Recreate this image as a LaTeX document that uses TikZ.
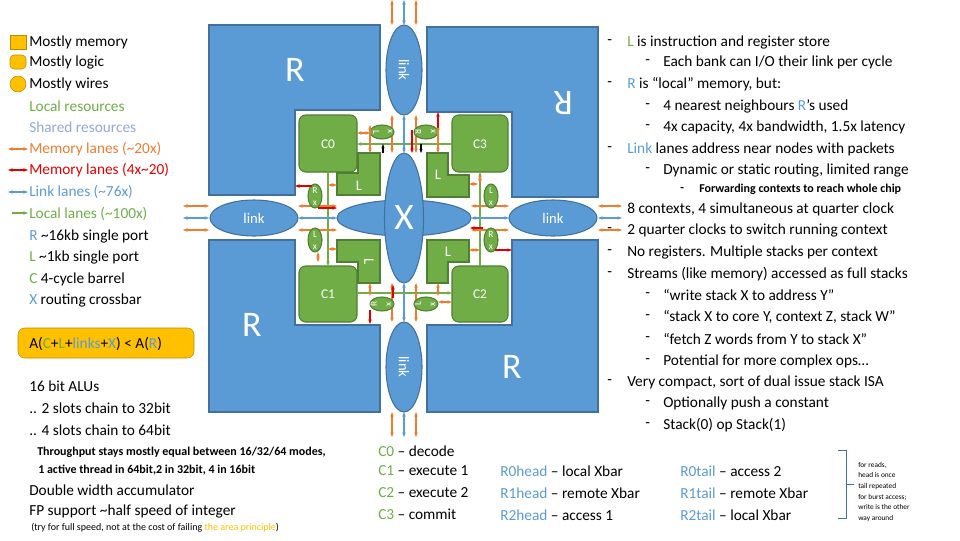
\documentclass[tikz,border=0pt]{standalone}
\usepackage{fontspec}
\setmainfont{Carlito}
\usetikzlibrary{arrows.meta}
\definecolor{mblue}{HTML}{5B9BD5}\definecolor{dblue}{HTML}{41719C}
\definecolor{mgreen}{HTML}{70AD47}\definecolor{dgreen}{HTML}{507E32}
\definecolor{morange}{HTML}{ED7D31}\definecolor{mgold}{HTML}{FFC000}
\definecolor{mred}{HTML}{E00000}\definecolor{ltblue}{HTML}{8FAADC}
\definecolor{gdraw}{HTML}{BC8C00}
\begin{document}
\begin{tikzpicture}[x=0.75pt,y=-0.75pt,
 blk/.style={fill=mblue,draw=dblue,line width=0.8pt},
 grn/.style={fill=mgreen,draw=dgreen,line width=0.8pt},
 oa/.style={{Stealth[length=3.5pt]}-{Stealth[length=3.5pt]},morange,line width=1.1pt},
 ba/.style={{Stealth[length=3.5pt]}-{Stealth[length=3.5pt]},mblue,line width=1.1pt},
 ga/.style={-{Stealth[length=3.5pt]},mgreen,line width=1.1pt},
 ra/.style={-{Stealth[length=3.5pt]},mred,line width=1.5pt},
 ka/.style={-{Stealth[length=3pt]},black,line width=0.8pt},
 wt/.style={white,font=\fontsize{11}{12}\selectfont},
 tx/.style={anchor=west,inner sep=0,font=\fontsize{11.5}{13}\selectfont},
 sm/.style={anchor=west,inner sep=0,font=\fontsize{9}{10}\selectfont\bfseries},
 tiny/.style={white,font=\fontsize{7}{7}\selectfont,inner sep=0}]
\useasboundingbox (0,0) rectangle (960,540);
% R blocks
\draw[blk] (209,25)--(380,25)--(380,110)--(295,110)--(295,195)--(209,195)--cycle;
\draw[blk] (427,27)--(598,27)--(598,197)--(512,197)--(512,112)--(427,112)--cycle;
\draw[blk] (209,240)--(295,240)--(295,325)--(380,325)--(380,412)--(209,412)--cycle;
\draw[blk] (427,325)--(512,325)--(512,240)--(598,240)--(598,412)--(427,412)--cycle;
\node[white,font=\fontsize{27}{28}\selectfont] (r0) at (295,70) {R};
\node[white,font=\fontsize{27}{28}\selectfont,rotate=180] (r3) at (563,103) {R};
\node[white,font=\fontsize{27}{28}\selectfont] (r1) at (252,325) {R};
\node[white,font=\fontsize{27}{28}\selectfont] (r2) at (512,367) {R};
% links and X
\draw[blk] (404,70) ellipse (18 and 45); \node[wt,rotate=-90] (lt) at (404,70) {link};
\draw[blk] (404,367) ellipse (18 and 45); \node[wt,rotate=-90] (lb) at (404,367) {link};
\draw[blk] (254,218) ellipse (44 and 18); \node[wt] (ll) at (254,218) {link};
\draw[blk] (553,218) ellipse (44 and 18); \node[wt] (lr) at (553,218) {link};
\draw[blk] (404,218) ellipse (67 and 18);
\draw[blk] (404,218) ellipse (19.5 and 65);
\node[white,font=\fontsize{28}{28}\selectfont] (X) at (404,218) {X};
% C boxes
\draw[grn,rounded corners=5pt] (299,115) rectangle (357,172); \node[wt,font=\fontsize{10}{10}\selectfont] (c0) at (328,144) {C0};
\draw[grn,rounded corners=5pt] (452,115) rectangle (508,172); \node[wt,font=\fontsize{10}{10}\selectfont] (c3) at (480,144) {C3};
\draw[grn,rounded corners=5pt] (299,266) rectangle (357,322); \node[wt,font=\fontsize{10}{10}\selectfont] (c1) at (328,294) {C1};
\draw[grn,rounded corners=5pt] (452,266) rectangle (508,322); \node[wt,font=\fontsize{10}{10}\selectfont] (c2) at (480,294) {C2};
% L shapes
\draw[grn] (358,153)--(380,153)--(380,195)--(337,195)--(337,173)--(358,173)--cycle; \node[wt] at (359,186) {L};
\draw[grn] (427,153)--(448,153)--(448,175)--(469,175)--(469,197)--(427,197)--cycle; \node[wt] at (438,175) {L};
\draw[grn] (337,240)--(380,240)--(380,283)--(358,283)--(358,262)--(337,262)--cycle; \node[wt,rotate=-90] at (369,262) {L};
\draw[grn] (427,240)--(469,240)--(469,262)--(448,262)--(448,283)--(427,283)--cycle; \node[wt] at (448,252) {L};
% lanes: green local
\draw[ga] (452,144)--(357,144);
\draw[ga] (328,172)--(328,266);
\draw[ga] (357,293)--(452,293);
\draw[ga] (480,266)--(480,172);
% link lanes
\foreach \y/\s in {206/oa,218/ba,230/oa}{
 \draw[\s] (183,\y)--(209,\y); \draw[\s] (298,\y)--(337,\y);
 \draw[\s] (471,\y)--(509,\y); \draw[\s] (598,\y)--(622,\y);}
\foreach \x/\s in {392/oa,404/ba,416/oa}{
 \draw[\s] (\x,0)--(\x,25); \draw[\s] (\x,115)--(\x,153);
 \draw[\s] (\x,283)--(\x,322); \draw[\s] (\x,412)--(\x,437);}
% small ellipses
\draw[grn] (382,132) ellipse (12 and 7); \node[tiny,rotate=-90] at (376,132) {L}; \node[tiny,rotate=-90] at (390,132) {x};
\draw[grn] (426,132) ellipse (12 and 7); \node[tiny,rotate=-90] at (418,132) {R}; \node[tiny,rotate=-90] at (433,132) {x};
\draw[grn] (315,196) ellipse (7 and 12); \node[tiny] at (315,190) {R}; \node[tiny] at (315,203) {x};
\draw[grn] (315,240) ellipse (7 and 12); \node[tiny] at (315,234) {L}; \node[tiny] at (315,247) {x};
\draw[grn] (491,196) ellipse (7 and 12); \node[tiny] at (491,190) {L}; \node[tiny] at (491,203) {x};
\draw[grn] (491,240) ellipse (7 and 12); \node[tiny] at (491,234) {R}; \node[tiny] at (491,247) {x};
\draw[grn] (382,304) ellipse (12 and 7); \node[tiny,rotate=90] at (374,304) {R}; \node[tiny,rotate=90] at (389,304) {x};
\draw[grn] (426,304) ellipse (12 and 7); \node[tiny,rotate=90] at (418,304) {L}; \node[tiny,rotate=90] at (433,304) {x};
% small orange connections
\draw[oa] (370,133)--(357,133); \draw[oa] (370,125)--(370,153);
\draw[oa] (438,125)--(438,153);
\draw[oa] (328,185)--(337,185); \draw[oa] (318,252)--(318,262); \draw[oa] (328,249)--(337,249);
\draw[oa] (480,175)--(480,184); \draw[oa] (469,184)--(478,184); \draw[oa] (469,250)--(480,250);
\draw[oa] (370,283)--(370,296); \draw[oa] (438,283)--(438,296); \draw[oa] (438,302)--(452,302);
% red arrows
\draw[ra] (438,128)--(438,112); \draw[ra] (412,130)--(412,153);
\draw[ra] (312,186)--(295,186); \draw[ra] (318,208)--(337,208);
\draw[ra] (483,228)--(470,228); \draw[ra] (495,250)--(512,250);
\draw[ra] (393,298)--(393,285); \draw[ra] (370,310)--(370,324);
\draw[ka] (383,153)--(383,144); \draw[ka] (421,144)--(421,153);
% legend
\fill[mgold,draw=gdraw] (10,35) rectangle (26,49);
\fill[mgold,draw=gdraw,rounded corners=3pt] (10,55) rectangle (26,69);
\fill[mgold,draw=gdraw] (18,84) circle (8);
\node[tx] at (29,42) {Mostly memory};
\node[tx] at (29,62) {Mostly logic};
\node[tx] at (29,84) {Mostly wires};
\node[tx,text=mgreen] at (29,106) {Local resources};
\node[tx,text=ltblue] at (29,127) {Shared resources};
\draw[oa] (8,149)--(28,149); \node[tx,text=morange] at (29,149) {Memory lanes (\textasciitilde20x)};
\draw[{Stealth[length=3.5pt]}-{Stealth[length=3.5pt]},mred,line width=1.1pt] (8,170)--(28,170); \node[tx,text=mred] at (29,170) {Memory lanes (4x\textasciitilde20)};
\draw[ba] (8,192)--(28,192); \node[tx,text=mblue] at (29,192) {Link lanes (\textasciitilde76x)};
\draw[ga] (12,213)--(28,213); \node[tx,text=mgreen] at (29,214) {Local lanes (\textasciitilde100x)};
\node[tx] at (29,236) {\textcolor{mblue}{R} \textasciitilde16kb single port};
\node[tx] at (29,257) {\textcolor{mgreen}{L} \textasciitilde1kb single port};
\node[tx] at (29,279) {\textcolor{mgreen}{C} 4-cycle barrel};
\node[tx] at (29,300) {\textcolor{mblue}{X} routing crossbar};
\draw[fill=mgold,draw=gdraw,rounded corners=5pt] (18,328) rectangle (194,358);
\node[tx] at (29,344) {A(\textcolor{mgreen}{C}+\textcolor{mgreen}{L}+\textcolor{mblue}{links}+\textcolor{mblue}{X}) < A(\textcolor{mblue}{R})};
% bottom left
\node[tx] at (29,386) {16 bit ALUs};
\node[tx] at (29,408) {.. 2 slots chain to 32bit};
\node[tx] at (29,430) {.. 4 slots chain to 64bit};
\node[sm] at (37,452) {Throughput stays mostly equal between 16/32/64 modes,};
\node[sm] at (38,470) {1 active thread in 64bit,2 in 32bit, 4 in 16bit};
\node[tx] at (29,490) {Double width accumulator};
\node[tx] at (29,511) {FP support \textasciitilde half speed of integer};
\node[anchor=west,inner sep=0,font=\fontsize{7.5}{8}\selectfont] at (31,528) {(try for full speed, not at the cost of failing \textcolor{mgold}{the area principle})};
% bottom middle
\node[tx] at (378,451) {\textcolor{mgreen}{C0} – decode};
\node[tx] at (378,471) {\textcolor{mgreen}{C1} – execute 1};
\node[tx] at (378,493) {\textcolor{mgreen}{C2} – execute 2};
\node[tx] at (378,514) {\textcolor{mgreen}{C3} – commit};
\node[tx] at (500,471) {\textcolor{mblue}{R0head} – local Xbar};
\node[tx] at (500,493) {\textcolor{mblue}{R1head} – remote Xbar};
\node[tx] at (500,515) {\textcolor{mblue}{R2head} – access 1};
\node[tx] at (680,471) {\textcolor{mblue}{R0tail} – access 2};
\node[tx] at (680,493) {\textcolor{mblue}{R1tail} – remote Xbar};
\node[tx] at (680,515) {\textcolor{mblue}{R2tail} – local Xbar};
\draw[dblue,line width=0.6pt] (838,450)--(846,450)--(846,518)--(838,518) (846,484)--(854,484);
\node[anchor=west,inner sep=0,font=\fontsize{5.5}{8}\selectfont,align=left] at (858,492) {for reads,\\head is once\\tail repeated\\for burst access;\\write is the other\\way around};
% right column
\def\dash#1#2{\node[tx] at (#1,#2) {-};}
\dash{607}{42}\node[tx] at (627,42) {\textcolor{mgreen}{L} is instruction and register store};
\dash{645}{62}\node[tx] at (663,62) {Each bank can I/O their link per cycle};
\dash{607}{84}\node[tx] at (627,84) {\textcolor{mblue}{R} is “local” memory, but:};
\dash{645}{106}\node[tx] at (663,106) {4 nearest neighbours \textcolor{mblue}{R}’s used};
\dash{645}{127}\node[tx] at (663,127) {4x capacity, 4x bandwidth, 1.5x latency};
\dash{607}{149}\node[tx] at (627,149) {\textcolor{mblue}{Link} lanes address near nodes with packets};
\dash{645}{170}\node[tx] at (663,170) {Dynamic or static routing, limited range};
\node[sm] at (680,189) {-}; \node[sm] at (699,189) {Forwarding contexts to reach whole chip};
\node[tx] at (627,209) {8 contexts, 4 simultaneous at quarter clock};
\dash{607}{230}\node[tx] at (627,230) {2 quarter clocks to switch running context};
\dash{607}{252}\node[tx] at (627,252) {No registers. Multiple stacks per context};
\dash{607}{274}\node[tx] at (627,274) {Streams (like memory) accessed as full stacks};
\dash{645}{295}\node[tx] at (663,295) {“write stack X to address Y”};
\dash{645}{317}\node[tx] at (663,317) {“stack X to core Y, context Z, stack W”};
\dash{645}{339}\node[tx] at (663,339) {“fetch Z words from Y to stack X”};
\dash{645}{361}\node[tx] at (663,361) {Potential for more complex ops…};
\dash{607}{382}\node[tx] at (627,382) {Very compact, sort of dual issue stack ISA};
\dash{645}{403}\node[tx] at (663,403) {Optionally push a constant};
\dash{645}{425}\node[tx] at (663,425) {Stack(0) op Stack(1)};
\end{tikzpicture}
\end{document}
